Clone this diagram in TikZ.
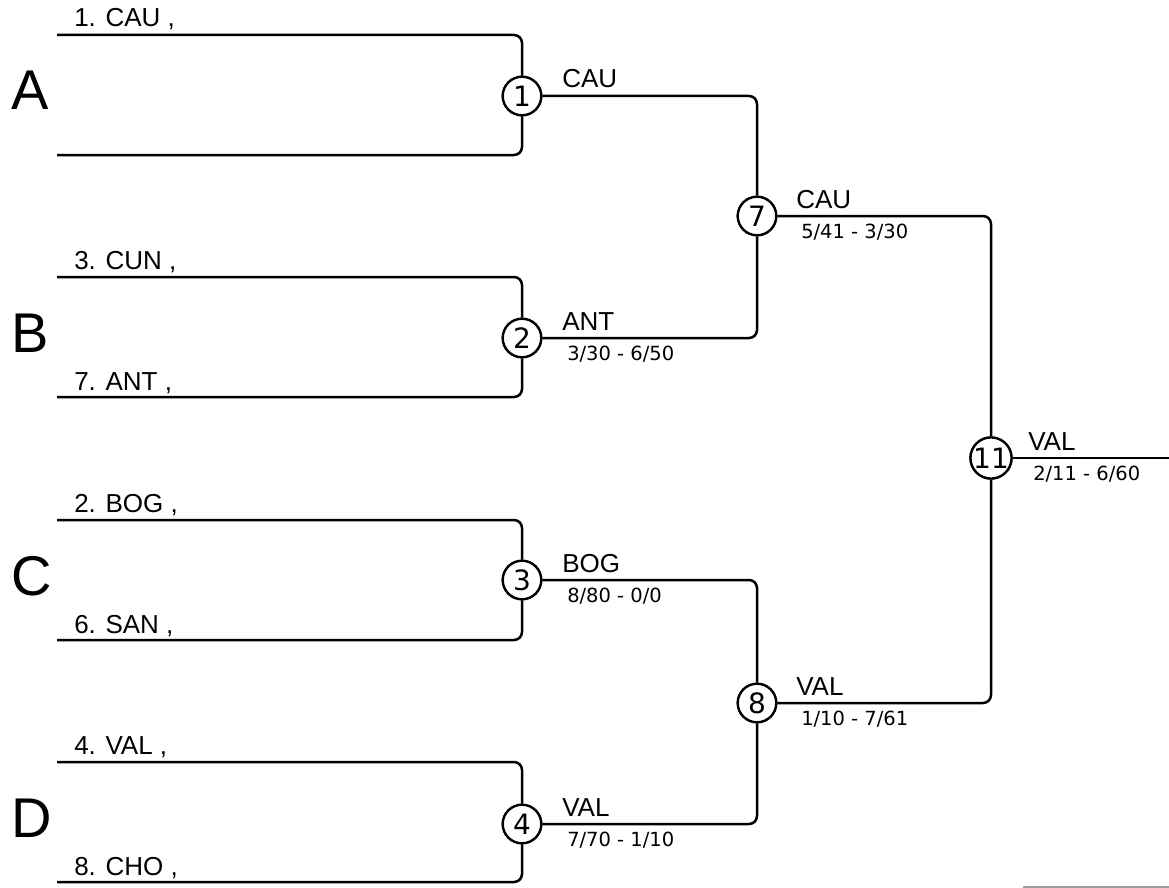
\documentclass[tikz,border=0pt]{standalone}
\usepackage{fontspec}
\setmainfont{Liberation Sans}
\newfontfamily\djv{DejaVu Sans}
\begin{document}
\begin{tikzpicture}[x=1pt,y=-1pt,
  line width=2.5pt,
  br/.style={draw,line width=2.5pt,rounded corners=8pt},
  game/.style={draw,circle,fill=white,minimum size=38.5pt,inner sep=0pt,line width=2.3pt,font=\djv\fontsize{28}{30}\selectfont},
  team/.style={anchor=base west,inner sep=0pt,font=\fontsize{26}{30}\selectfont},
  score/.style={anchor=base west,inner sep=0pt,font=\djv\fontsize{19.5}{22}\selectfont},
  grp/.style={anchor=base west,inner sep=0pt,font=\fontsize{56}{60}\selectfont}]
\useasboundingbox (0,0) rectangle (1169,888);
% games
\node[game] (c1) at (522,96) {1};
\node[game] (c2) at (522,338) {2};
\node[game] (c3) at (522,580) {3};
\node[game] (c4) at (522,824) {4};
\node[game] (c7) at (757,216) {7};
\node[game] (c8) at (757,703) {8};
\node[game] (c11) at (991,458) {11};
% free ends
\coordinate (a1) at (57,35);  \coordinate (a2) at (57,155);
\coordinate (b1) at (57,277); \coordinate (b2) at (57,397);
\coordinate (d1) at (57,520); \coordinate (d2) at (57,640);
\coordinate (e1) at (57,762); \coordinate (e2) at (57,882);
\coordinate (fin) at (1169,458);
% brackets
\foreach \s/\c in {a1/c1,a2/c1,b1/c2,b2/c2,d1/c3,d2/c3,e1/c4,e2/c4}
  \draw[br] (\s) -- (\s -| \c) -- (\c);
\foreach \s/\c in {c1/c7,c2/c7,c3/c8,c4/c8,c7/c11,c8/c11}
  \draw[br] (\s) -- (\s -| \c) -- (\c);
\draw[br] (c11) -- (fin);
% redraw circles on top
\foreach \n/\p/\t in {c1/{522,96}/1,c2/{522,338}/2,c3/{522,580}/3,c4/{522,824}/4,c7/{757,216}/7,c8/{757,703}/8,c11/{991,458}/11}
  \node[game] at (\p) {\t};
% group letters
\node[grp] (gA) at (10,110) {A};
\node[grp] (gB) at (10,352) {B};
\node[grp] (gC) at (10,595) {C};
\node[grp] (gD) at (10,837) {D};
% team labels
\node[team] (t1) at (73,27) {1. CAU ,};
\node[team] (t3) at (73,269) {3. CUN ,};
\node[team] (t7) at (73,390) {7. ANT ,};
\node[team] (t2) at (73,512) {2. BOG ,};
\node[team] (t6) at (73,633) {6. SAN ,};
\node[team] (t4) at (73,754) {4. VAL ,};
\node[team] (t8) at (73,875) {8. CHO ,};
% winners
\node[team] (w1) at (561,88) {CAU};
\node[team] (w2) at (561,330) {ANT};
\node[score] (s2) at (566,360) {3/30 - 6/50};
\node[team] (w3) at (561,572) {BOG};
\node[score] (s3) at (566,602) {8/80 - 0/0};
\node[team] (w4) at (561,816) {VAL};
\node[score] (s4) at (566,846) {7/70 - 1/10};
\node[team] (w7) at (795,208) {CAU};
\node[score] (s7) at (800,238) {5/41 - 3/30};
\node[team] (w8) at (795,695) {VAL};
\node[score] (s8) at (800,725) {1/10 - 7/61};
\node[team] (w11) at (1027,450) {VAL};
\node[score] (s11) at (1032,480) {2/11 - 6/60};
% stray gray rule
\draw[line width=1.2pt,color=black!38] (1023,887) -- (1169,887);
\end{tikzpicture}
\end{document}
